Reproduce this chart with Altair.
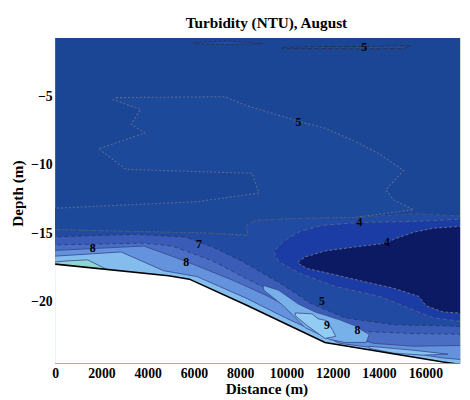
import altair as alt
import pandas as pd

X_DOMAIN = [0, 17500]
Y_DOMAIN = [-24.5, -0.7]
X_TICKS = [0, 2000, 4000, 6000, 8000, 10000, 12000, 14000, 16000]
Y_TICKS = [-5, -10, -15, -20]

# ---- contour regions (distance m, depth m) ----
main_x = [-500, 18000, 18000, -500]
main_y = [0.5, 0.5, -27, -27]

zig_x = [2638, 7319, 8255, 9531, 10510, 11659, 12935, 13999, 14425, 15063, 14297, 14637,
         15488, 12935, 10382, 8680, 8255, 8340, 6680, 4681, -500, -500, 3149, 6085, 8808,
         8510, 3064, 1872, 3872, 3276, 3702, 2510]
zig_y = [-5.07, -5.00, -5.65, -6.29, -6.80, -7.30, -8.24, -9.17, -9.67, -10.39, -11.83, -12.55,
         -13.27, -13.84, -13.92, -14.06, -14.42, -15.14, -14.99, -14.92, -14.71, -13.20, -12.91,
         -12.69, -12.05, -10.61, -10.32, -8.81, -7.66, -7.01, -5.93, -5.22]

top1_x = [6000, 7404, 8978, 7404, 6000]
top1_y = [-1.05, -0.92, -1.12, -1.19, -1.12]
top2_x = [9829, 11659, 13361, 15361, 15063, 13361, 11659, 9829]
top2_y = [-1.40, -1.33, -1.33, -1.26, -1.48, -1.50, -1.48, -1.48]

r5_x = [-500, 4681, 6680, 7829, 8340, 8255, 8680, 10382, 12935, 15488, 18000, 18000, -500]
r5_y = [-14.71, -14.92, -14.99, -15.14, -15.14, -14.42, -14.06, -13.92, -13.84, -13.56, -13.77, -27, -27]

ring_x = [18000, 15488, 13148, 11531, 10595, 9872, 9446, 9659, 10595, 12084, 13999, 15488, 16339, 18000]
ring_y = [-13.92, -14.13, -14.20, -14.42, -14.85, -15.57, -16.36, -17.08, -17.94, -18.88, -19.60, -20.60, -21.18, -21.54]

navy_x = [18000, 16339, 15488, 14637, 14340, 12935, 11659, 10808, 10467, 10893, 11872, 13148,
          14637, 15701, 16041, 16765, 18000]
navy_y = [-14.42, -14.63, -14.92, -15.43, -15.71, -16.00, -16.29, -16.72, -17.15, -17.58, -17.94,
          -18.45, -19.02, -19.60, -20.31, -20.75, -20.89]

bandA_x = [-500, 3532, 5659, 6808, 8042, 9744, 11021, 12510, 14637, 16339, 18000, 18000, -500]
bandA_y = [-15.28, -15.07, -15.28, -16.00, -17.01, -18.66, -20.10, -21.18, -21.68, -21.75, -21.83, -27, -27]

bandB_x = [-500, 3830, 5063, 6808, 8255, 9957, 11659, 13361, 15488, 18000, 18000, -500]
bandB_y = [-15.86, -15.71, -15.93, -17.01, -18.30, -19.74, -21.32, -22.18, -22.33, -22.40, -27, -27]

bandC_x = [-500, 3830, 4425, 5702, 7702, 9106, 10808, 12297, 13786, 15488, 18000, 18000, -500]
bandC_y = [-16.29, -15.93, -16.29, -17.08, -18.45, -19.52, -21.03, -22.33, -23.05, -23.26, -23.19, -27, -27]

bandD_x = [-500, 2851, 4681, 6127, 8255, 9957, 11233, 12297, 14637, 16765, 18000, 18000, -500]
bandD_y = [-16.72, -16.36, -17.73, -18.16, -19.74, -21.18, -22.18, -23.05, -23.55, -24.12, -24.30, -27, -27]

wedge_x = [8978, 9659, 10510, 11233, 12297, 12935, 13574, 13446, 12510, 11872, 10808, 10297, 9872, 9021]
wedge_y = [-18.80, -19.16, -20.17, -20.75, -21.32, -21.75, -22.40, -22.98, -22.98, -22.76, -21.90, -21.03, -20.31, -19.16]

nine_x = [10382, 11106, 11361, 11744, 11999, 12127, 11659, 10893, 10382]
nine_y = [-20.82, -20.89, -21.25, -21.39, -22.11, -22.54, -22.69, -21.75, -21.03]

thin_x = [13574, 15488, 16977, 15914, 14637, 13574]
thin_y = [-23.26, -23.55, -23.84, -23.91, -23.77, -23.41]

cyan_x = [-500, 596, 1404, 2425, 2425, -500]
cyan_y = [-17.15, -17.01, -16.94, -17.80, -18.5, -18.5]

bed_x = [-500, 0, 4900, 5800, 8255, 11660, 16765, 18000, 18000, -500]
bed_y = [-17.2, -17.25, -18.1, -18.35, -20.24, -22.98, -24.41, -24.7, -27, -27]

label_x = [13361, 10510, 13148, 14340, 1617, 6212, 5659, 11531, 11744, 13063]
label_y = [-1.40, -6.87, -14.20, -15.64, -16.07, -15.79, -17.08, -19.96, -21.68, -22.04]
label_t = ["5", "5", "4", "4", "8", "7", "8", "5", "9", "8"]

FONT = "Liberation Serif"

xscale = alt.Scale(domain=X_DOMAIN, nice=False, zero=False)
yscale = alt.Scale(domain=Y_DOMAIN, nice=False, zero=False)
xaxis = alt.Axis(values=X_TICKS, format="d", grid=False, ticks=False, domain=False,
                 labelFont=FONT, labelFontWeight="bold", labelFontSize=14, labelColor="black",
                 labelPadding=4, title="Distance (m)", titleFont=FONT, titleFontWeight="bold",
                 titleFontSize=15.5, titleColor="black", titleX=215, titleY=31,
                 titleBaseline="alphabetic", titleAnchor="middle", labelFlush=False)
yaxis = alt.Axis(values=Y_TICKS, format="d", grid=False, ticks=False, domain=False,
                 labelFont=FONT, labelFontWeight="bold", labelFontSize=14, labelColor="black",
                 labelPadding=3, title="Depth (m)", titleFont=FONT, titleFontWeight="bold",
                 titleFontSize=15.5, titleColor="black", titleX=-38, titleY=158,
                 titleAngle=270, titleBaseline="middle", titleAnchor="middle", labelFlush=False)


def poly(xs, ys, fill, stroke=None, dash=None, sw=1.0):
    df = pd.DataFrame({"x": xs, "y": ys, "k": list(range(len(xs)))})
    kw = dict(interpolate="linear-closed", fill=fill, clip=True,
              stroke=stroke if stroke else fill, strokeWidth=sw if stroke else 0.5)
    if dash:
        kw["strokeDash"] = dash
    return alt.Chart(df).mark_line(**kw).encode(
        x=alt.X("x:Q", scale=xscale, axis=xaxis),
        y=alt.Y("y:Q", scale=yscale, axis=yaxis),
        order=alt.Order("k:Q"),
    )


layers = [
    poly(main_x, main_y, "#1b4595"),
    poly(zig_x, zig_y, "#1d499b", "#5d6c90", [2, 2], 1.1),
    poly(top1_x, top1_y, "#1f4d9f", "#2a3350", [3, 2], 1.0),
    poly(top2_x, top2_y, "#1f4d9f", "#2a3350", [5, 2], 1.0),
    poly(r5_x, r5_y, "#214ba3", "#4a5678", [4, 3], 1.0),
    poly(ring_x, ring_y, "#1a3ca4", "#55608a", [4, 3], 1.0),
    poly(navy_x, navy_y, "#0b1a62", "#6a7090", [3, 2], 1.0),
    poly(bandA_x, bandA_y, "#3a5cb6", "#283a70", [4, 3], 1.0),
    poly(bandB_x, bandB_y, "#4a6ec4", "#2c3e78", [4, 3], 0.9),
    poly(bandC_x, bandC_y, "#6592dc", "#34488a", None, 0.8),
    poly(bandD_x, bandD_y, "#84bcee", "#34488a", None, 0.8),
    poly(wedge_x, wedge_y, "#78b0ea", "#34488a", None, 0.8),
    poly(nine_x, nine_y, "#92ccf2", "#34488a", None, 0.8),
    poly(thin_x, thin_y, "#86c0ee", "#34488a", None, 0.8),
    poly(cyan_x, cyan_y, "#8fd6d0", "#34488a", None, 0.8),
    poly(bed_x, bed_y, "white", "black", None, 1.6),
]

labels = pd.DataFrame({"x": label_x, "y": label_y, "t": label_t})
text = alt.Chart(labels).mark_text(font=FONT, fontWeight="bold", fontSize=12, color="black",
                                   clip=True).encode(
    x=alt.X("x:Q", scale=xscale, axis=xaxis),
    y=alt.Y("y:Q", scale=yscale, axis=yaxis),
    text="t:N",
)

chart = alt.layer(*layers, text).properties(
    width=412,
    height=331,
    title=alt.Title("Turbidity (NTU), August", font=FONT, fontSize=15.5, fontWeight="bold",
                    color="black", anchor="middle", dx=9, offset=7),
    autosize=alt.AutoSizeParams(type="none"),
    padding={"left": 48, "top": 27, "right": 2, "bottom": 34},
).configure_view(stroke="black", strokeWidth=1).configure(background="white")

chart.save("out.html", embed_options={"renderer": "svg", "actions": False})
